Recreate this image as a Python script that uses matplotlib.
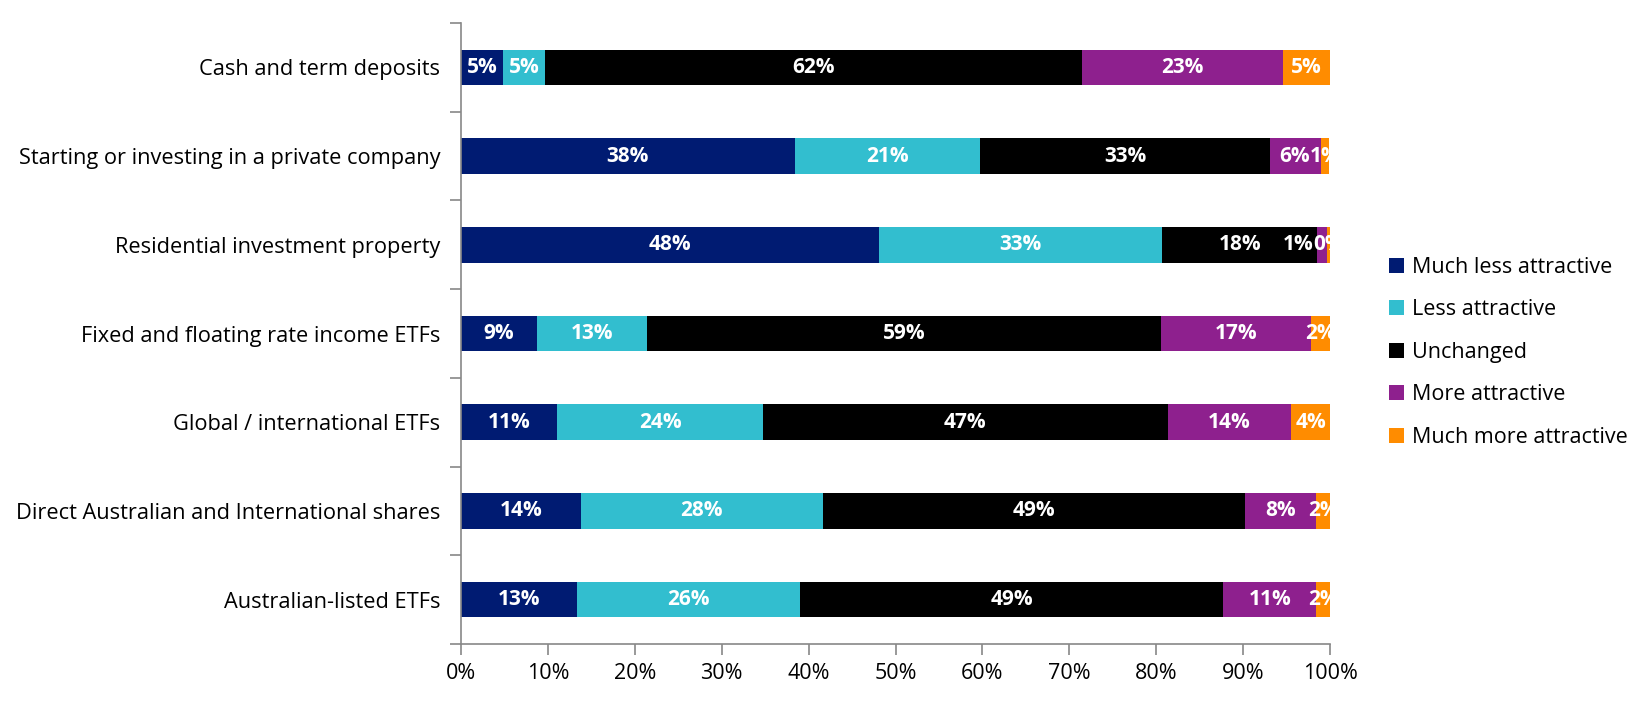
import numpy as np
import matplotlib.pyplot as plt

plt.rcParams['font.family'] = ['Open Sans', 'DejaVu Sans']

categories = [
    "Cash and term deposits",
    "Starting or investing in a private company",
    "Residential investment property",
    "Fixed and floating rate income ETFs",
    "Global / international ETFs",
    "Direct Australian and International shares",
    "Australian-listed ETFs",
]
series_names = ["Much less attractive", "Less attractive", "Unchanged",
                "More attractive", "Much more attractive"]

much_less = [4.8, 38.4, 48.1, 8.7, 11.1, 13.8, 13.3]
less = [4.9, 21.3, 32.6, 12.7, 23.6, 27.8, 25.7]
unchanged = [61.7, 33.4, 17.8, 59.2, 46.6, 48.6, 48.7]
more = [23.2, 5.8, 1.1, 17.2, 14.2, 8.2, 10.7]
much_more = [5.4, 1.0, 0.4, 2.2, 4.5, 1.6, 1.6]

colors = ["#001B72", "#32BECF", "#000000", "#8E208E", "#FF8C00"]

data = np.array([much_less, less, unchanged, more, much_more])

fig = plt.figure(figsize=(16.5, 7.02), dpi=100)
ax = fig.add_axes([0.2794, 0.0826, 0.8061 - 0.2794, 0.9672 - 0.0826])

y = np.arange(len(categories))
left = np.zeros(len(categories))
for i, name in enumerate(series_names):
    ax.barh(y, data[i], left=left, height=0.4, color=colors[i], label=name)
    left = left + data[i]

# value labels, nudged left when they would overlap the next one
gap = 0.5
for r in range(len(categories)):
    starts = np.concatenate([[0], np.cumsum(data[:, r])[:-1]])
    centers = starts + data[:, r] / 2
    texts = ["%d%%" % round(v) for v in data[:, r]]
    widths = [1.5 * len(t) for t in texts]
    pos = list(centers)
    for k in range(len(pos) - 2, -1, -1):
        limit = pos[k + 1] - widths[k + 1] / 2 - gap - widths[k] / 2
        if pos[k] > limit:
            pos[k] = limit
    for k in range(len(pos)):
        ax.text(pos[k], y[r], texts[k], ha="center", va="center", color="white",
                fontsize=15, fontweight="bold", clip_on=True)

ax.set_xlim(0, 100)
ax.set_ylim(len(categories) - 0.5, -0.5)
ax.set_xticks(np.arange(0, 101, 10))
ax.set_xticklabels(["%d%%" % v for v in range(0, 101, 10)], fontsize=15.5)
ax.set_yticks(np.arange(-0.5, len(categories), 1.0), minor=False)
ax.set_yticklabels([])
ax.set_yticks(y, minor=True)
ax.set_yticklabels(categories, minor=True, fontsize=15.7)
ax.tick_params(axis="y", which="minor", length=0, pad=15)
ax.tick_params(axis="y", which="major", length=8, color="#888888", width=1.2)
ax.tick_params(axis="x", length=8, color="#888888", width=1.2, pad=6)

for s in ["top", "right"]:
    ax.spines[s].set_visible(False)
for s in ["left", "bottom"]:
    ax.spines[s].set_color("#888888")
    ax.spines[s].set_linewidth(1.2)

ax.legend(loc="center left", bbox_to_anchor=(1.045, 0.470), frameon=False,
          fontsize=15.5, handlelength=0.7, handleheight=0.7, handletextpad=0.4,
          labelspacing=1.0)

fig.savefig("out.png", dpi=100)
